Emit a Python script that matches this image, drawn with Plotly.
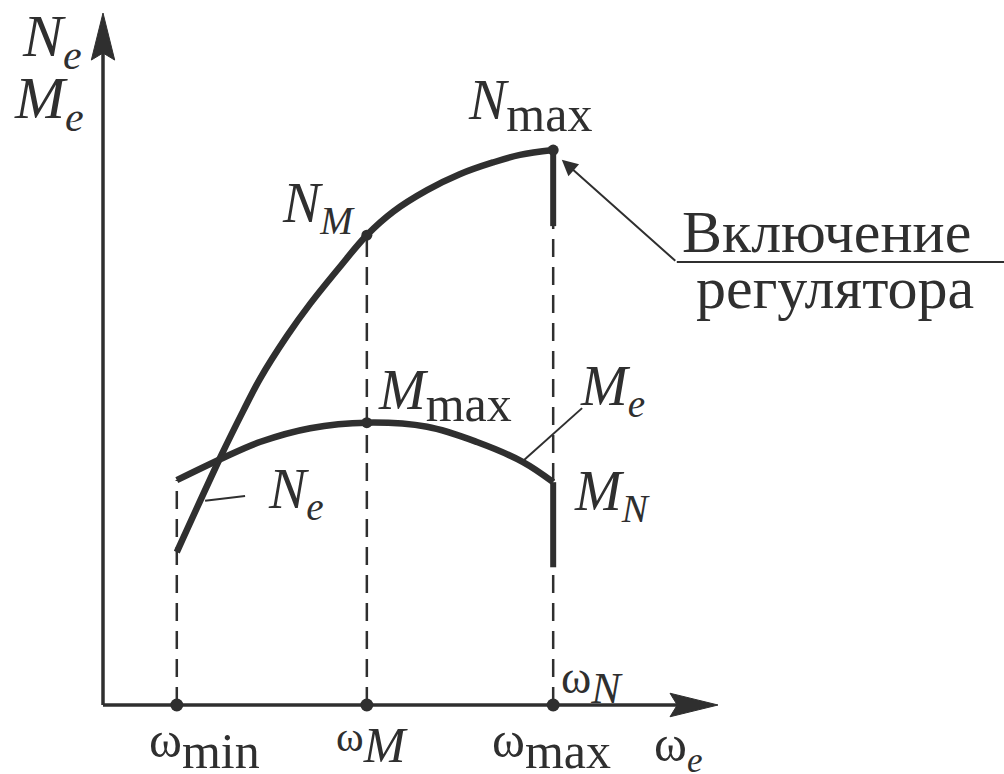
import plotly.graph_objects as go

# Engine speed characteristic: effective power N_e and torque M_e vs. crankshaft speed
omega_Ne = [1.20, 1.93, 2.28, 2.55, 2.99, 3.37, 3.85, 4.29, 4.72, 5.27, 5.80, 6.34, 6.78, 7.32]
Ne = [2.21, 3.62, 4.25, 4.71, 5.33, 5.80, 6.33, 6.79, 7.13, 7.44, 7.67, 7.84, 7.95, 8.02]

omega_Me = [1.20, 1.95, 2.55, 3.37, 4.29, 5.27, 6.08, 6.83, 7.32]
Me = [3.25, 3.57, 3.80, 4.00, 4.08, 4.02, 3.80, 3.51, 3.22]

# characteristic speeds
omega_marks = [1.20, 4.29, 7.32]
omega_min, omega_M, omega_max = omega_marks

# characteristic values
N_M, M_max, N_max, M_N = 6.79, 4.08, 8.02, 3.22
# governor branch ends (after the regulator switches on)
N_cut, M_cut = 6.92, 1.99

AXIS_X_END, AXIS_Y_END = 10.0, 10.0

INK = "#2f2f2f"
FONT = "Liberation Serif"

fig = go.Figure()

# dashed projections to the speed axis
for xv, ytop in [(omega_min, Me[0]), (omega_M, N_M), (omega_max, N_max)]:
    fig.add_trace(go.Scatter(x=[xv, xv], y=[0, ytop], mode="lines",
                             line=dict(color=INK, width=2.5, dash="18px,10px"),
                             hoverinfo="skip", showlegend=False))

# axes
fig.add_trace(go.Scatter(x=[0, AXIS_X_END - 0.3], y=[0, 0], mode="lines",
                         line=dict(color=INK, width=3.5), showlegend=False, hoverinfo="skip"))
fig.add_trace(go.Scatter(x=[0, 0], y=[0, AXIS_Y_END - 0.3], mode="lines",
                         line=dict(color=INK, width=3.5), showlegend=False, hoverinfo="skip"))
# arrowheads
hx_len, hx_w = 0.78, 0.17
fig.add_trace(go.Scatter(
    x=[AXIS_X_END, AXIS_X_END - hx_len, AXIS_X_END - hx_len * 0.85, AXIS_X_END - hx_len, AXIS_X_END],
    y=[0, hx_w, 0, -hx_w, 0], mode="lines", fill="toself", fillcolor=INK,
    line=dict(color=INK, width=1), showlegend=False, hoverinfo="skip"))
hy_len, hy_w = 0.68, 0.19
fig.add_trace(go.Scatter(
    x=[0, hy_w, 0, -hy_w, 0],
    y=[AXIS_Y_END, AXIS_Y_END - hy_len, AXIS_Y_END - hy_len * 0.85, AXIS_Y_END - hy_len, AXIS_Y_END],
    mode="lines", fill="toself", fillcolor=INK,
    line=dict(color=INK, width=1), showlegend=False, hoverinfo="skip"))

# curves
fig.add_trace(go.Scatter(x=omega_Ne, y=Ne, mode="lines",
                         line=dict(color=INK, width=6.5, shape="spline", smoothing=1.0),
                         showlegend=False, hoverinfo="skip"))
fig.add_trace(go.Scatter(x=omega_Me, y=Me, mode="lines",
                         line=dict(color=INK, width=6.5, shape="spline", smoothing=1.0),
                         showlegend=False, hoverinfo="skip"))
# regulator branches
fig.add_trace(go.Scatter(x=[omega_max, omega_max], y=[N_max, N_cut], mode="lines",
                         line=dict(color=INK, width=6), showlegend=False, hoverinfo="skip"))
fig.add_trace(go.Scatter(x=[omega_max, omega_max], y=[M_N, M_cut], mode="lines",
                         line=dict(color=INK, width=6), showlegend=False, hoverinfo="skip"))

# points
fig.add_trace(go.Scatter(x=omega_marks, y=[0, 0, 0], mode="markers",
                         marker=dict(color=INK, size=13), showlegend=False, hoverinfo="skip"))
fig.add_trace(go.Scatter(x=[omega_M, omega_M, omega_max], y=[N_M, M_max, N_max], mode="markers",
                         marker=dict(color=INK, size=11), showlegend=False, hoverinfo="skip"))

# label leaders
fig.add_shape(type="line", x0=6.81, y0=3.51, x1=7.79, y1=4.29, line=dict(color=INK, width=2))
fig.add_shape(type="line", x0=1.66, y0=2.95, x1=2.31, y1=3.02, line=dict(color=INK, width=2))
fig.add_shape(type="line", x0=9.33, y0=6.40, x1=14.7, y1=6.40, line=dict(color=INK, width=2))
fig.add_annotation(x=7.46, y=7.88, ax=9.33, ay=6.40, xref="x", yref="y", axref="x", ayref="y",
                   text="", showarrow=True, arrowhead=2, arrowsize=1.6, arrowwidth=2,
                   arrowcolor=INK)

W, H = 1004, 774


def P(px, py):
    return px / W, 1 - py / H


def label(text, px, py, size, xanchor="center"):
    x, y = P(px, py)
    fig.add_annotation(x=x, y=y, xref="paper", yref="paper", text=text, showarrow=False,
                       xanchor=xanchor, yanchor="middle",
                       font=dict(family=FONT, size=size))


label("<i>N</i><sub><i>e</i></sub>", 20, 40, 60, xanchor="left")
label("<i>M</i><sub><i>e</i></sub>", 12, 103, 60, xanchor="left")
label("<i>N</i><sub><span style='font-size:50px'>max</span></sub>", 530, 105, 56)
label("<i>N</i><sub><i>M</i></sub>", 318, 207, 56)
label("<i>M</i><sub><span style='font-size:50px'>max</span></sub>", 445, 395, 56)
label("<i>M</i><sub><i>e</i></sub>", 612, 390, 56)
label("<i>N</i><sub><i>e</i></sub>", 296, 493, 56)
label("<i>M</i><sub><i>N</i></sub>", 612, 495, 56)

label("ω<sub><span style='font-size:50px'>min</span></sub>", 204, 745, 50)
label("<span style='font-size:42px'>ω</span><sub><span style='font-size:50px'><i>M</i></span></sub>", 372, 743, 50)
label("ω<sub><span style='font-size:50px'>max</span></sub>", 551, 745, 50)
label("ω<sub><i>e</i></sub>", 678, 748, 50)
label("ω<sub><span style='font-size:44px'><i>N</i></span></sub>", 592, 682, 46)

label("Включение", 826, 232, 60)
label("регулятора", 835, 288, 60)

fig.update_layout(
    width=W, height=H, margin=dict(l=0, r=0, t=0, b=0),
    font=dict(family=FONT, color=INK),
    paper_bgcolor="white", plot_bgcolor="white",
    xaxis=dict(range=[-103 / 61.5, 901 / 61.5], visible=False, fixedrange=True),
    yaxis=dict(range=[-69 / 69.2, 705 / 69.2], visible=False, fixedrange=True),
    showlegend=False,
)

fig.write_html("out.html")
